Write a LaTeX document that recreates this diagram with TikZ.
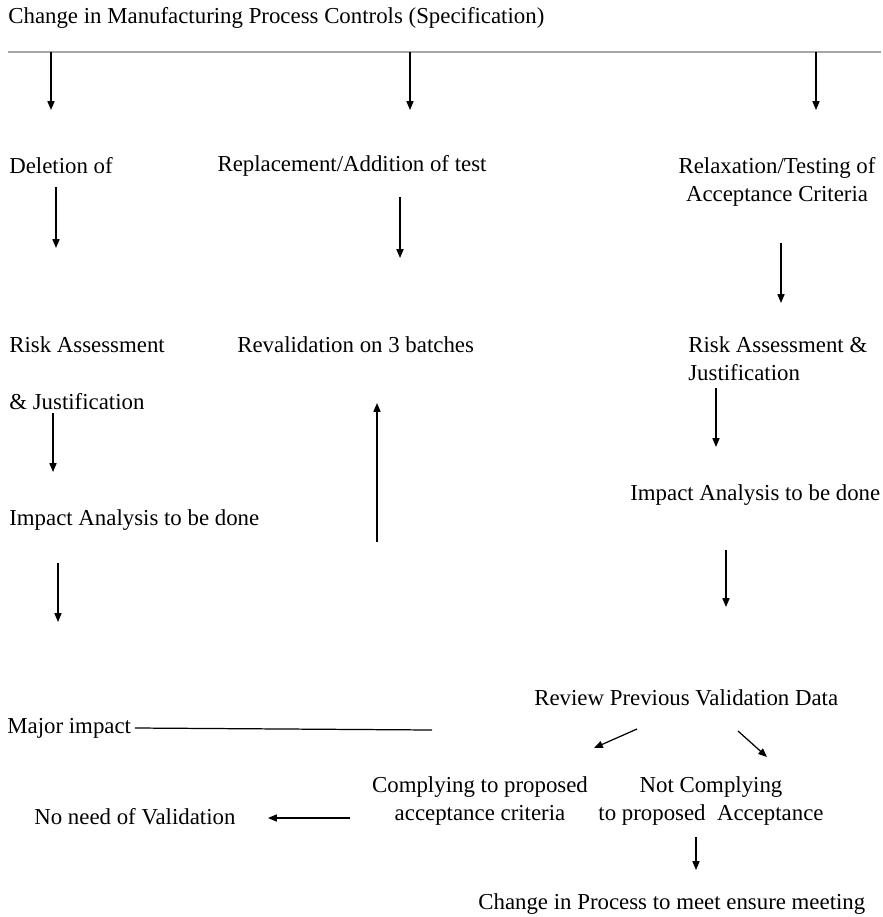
\documentclass[tikz,border=0pt]{standalone}
\usepackage{fontspec}
\setmainfont{Liberation Serif}
\usetikzlibrary{arrows.meta}
\tikzset{
  lbl/.style={inner sep=0pt, font=\fontsize{13}{16}\selectfont},
  arr/.style={-{Triangle[length=5pt,width=4pt]}, line width=0.7pt}}

\begin{document}
\begin{tikzpicture}[x=0.02cm, y=-0.02cm]
  \useasboundingbox (0,0) rectangle (883,917);
    \node[lbl, anchor=west] (title) at (8,18) {Change in Manufacturing Process Controls (Specification)};
    \coordinate (barL) at (8,52);
    \coordinate (barR) at (881,52);
    \draw[gray!70, line width=1.2pt] (barL) -- (barR);
    % first row
    \node[lbl, anchor=west] (del) at (9,166) {Deletion of};
    \node[lbl] (repl) at (352,166) {Replacement/Addition of test};
    \node[lbl, align=center] (relax) at (777,182) {Relaxation/Testing of\\Acceptance Criteria};
    % second row
    \node[lbl, anchor=west] (risk1) at (9,345) {Risk Assessment};
    \node[lbl, anchor=west] (risk1b) at (9,402) {\& Justification};
    \node[lbl, anchor=west] (reval) at (237,345) {Revalidation on 3 batches};
    \node[lbl, anchor=west, align=left] (risk2) at (688,359) {Risk Assessment \&\\Justification};
    \node[lbl, anchor=west] (imp2) at (630,495) {Impact Analysis to be done};
    \node[lbl, anchor=west] (imp1) at (9,520) {Impact Analysis to be done};
    % bottom
    \node[lbl, anchor=west] (review) at (534,698) {Review Previous Validation Data};
    \node[lbl, anchor=west] (major) at (7,728) {Major impact};
    \node[lbl, align=center] (comp) at (480,801) {Complying to proposed\\acceptance criteria};
    \node[lbl, align=center] (ncomp) at (711,801) {Not Complying\\to proposed\ \ Acceptance};
    \node[lbl, anchor=west] (noneed) at (34,817) {No need of Validation};
    \node[lbl, anchor=west] (chg) at (478,904) {Change in Process to meet ensure meeting};
    % arrow ends
    \coordinate (a1) at (51,52);   \coordinate (b1) at (51,110);
    \coordinate (a2) at (410,52);  \coordinate (b2) at (410,110);
    \coordinate (a3) at (816,52);  \coordinate (b3) at (816,110);
    \coordinate (a4) at (56,187);  \coordinate (b4) at (56,248);
    \coordinate (a5) at (400,197); \coordinate (b5) at (400,258);
    \coordinate (a6) at (781,243); \coordinate (b6) at (781,303);
    \coordinate (a7) at (53,413);  \coordinate (b7) at (53,472);
    \coordinate (a8) at (377,542); \coordinate (b8) at (377,403);
    \coordinate (a9) at (716,388); \coordinate (b9) at (716,447);
    \coordinate (a10) at (58,563); \coordinate (b10) at (58,622);
    \coordinate (a11) at (726,550); \coordinate (b11) at (726,607);
    \coordinate (a12) at (637,729); \coordinate (b12) at (594,748);
    \coordinate (a13) at (738,731); \coordinate (b13) at (767,757);
    \coordinate (a14) at (350,818); \coordinate (b14) at (268,818);
    \coordinate (a15) at (696,837); \coordinate (b15) at (696,870);
    \coordinate (m1) at (432,730);
  \draw[arr] (a1) -- (b1);
  \draw[arr] (a2) -- (b2);
  \draw[arr] (a3) -- (b3);
  \draw[arr] (a4) -- (b4);
  \draw[arr] (a5) -- (b5);
  \draw[arr] (a6) -- (b6);
  \draw[arr] (a7) -- (b7);
  \draw[arr] (a8) -- (b8);
  \draw[arr] (a9) -- (b9);
  \draw[arr] (a10) -- (b10);
  \draw[arr] (a11) -- (b11);
  \draw[arr] (a12) -- (b12);
  \draw[arr] (a13) -- (b13);
  \draw[arr] (a14) -- (b14);
  \draw[arr] (a15) -- (b15);
  \draw[line width=0.7pt] ([xshift=2pt]major.east) -- (m1);
\end{tikzpicture}
\end{document}
